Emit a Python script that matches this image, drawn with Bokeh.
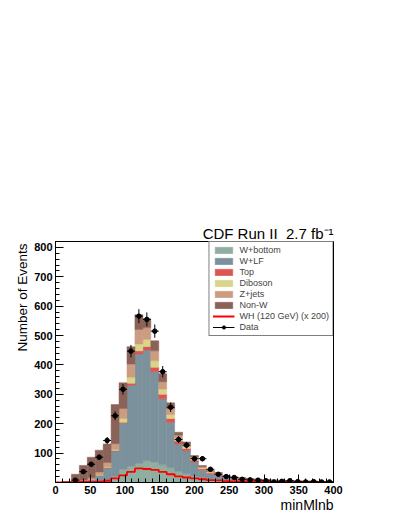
import numpy as np
from bokeh.plotting import figure
from bokeh.models import Range1d, FixedTicker, Legend, LegendItem, Title, ColumnDataSource
from bokeh.embed import file_html
from bokeh.resources import INLINE

# ---- data ----
x_min, x_max, n_bins = 0, 400, 35
data_counts = [0, 0, 8, 37, 62, 86, 143, 227, 317, 447, 566, 555, 515, 377, 256, 146, 127, 81, 81, 45,
               28, 20, 17, 11, 9, 8, 6, 2, 4, 6, 3, 2, 3, 2, 2]
w_bottom = [0, 0, 1, 2, 3, 5, 8, 20, 45, 55, 65, 74, 70, 60, 50, 38, 30, 22, 16, 12,
            9, 7, 6, 5, 4, 3, 3, 2, 2, 2, 1, 1, 1, 1, 1]
w_lf = [0, 1, 1, 3, 8, 20, 42, 87, 157, 275, 372, 377, 307, 225, 155, 93, 78, 48, 26, 17,
        15, 10, 8, 7, 6, 6, 4, 4, 4, 3, 3, 3, 3, 2, 2]
top = [0, 0, 0, 0, 0, 0, 1, 2, 3, 8, 11, 12, 15, 15, 13, 10, 8, 6, 4, 3,
       3, 2, 2, 1, 1, 1, 1, 1, 1, 1, 1, 0, 0, 0, 0]
diboson = [0, 0, 0, 0, 0, 1, 2, 3, 13, 20, 23, 24, 22, 18, 13, 8, 6, 5, 3, 3,
           2, 2, 1, 1, 1, 0, 0, 0, 0, 0, 0, 0, 0, 0, 0]
zjets = [0, 0, 1, 3, 5, 10, 15, 20, 34, 45, 50, 40, 34, 25, 20, 12, 9, 6, 5, 3,
         3, 2, 1, 1, 1, 1, 1, 1, 0, 0, 0, 0, 0, 0, 0]
non_w = [0, 2, 25, 50, 70, 74, 63, 133, 87, 59, 50, 30, 34, 27, 20, 10, 7, 5, 4, 3,
         2, 1, 1, 1, 0, 0, 0, 0, 0, 0, 0, 0, 0, 0, 0]
wh_x200 = [0, 0, 1, 2, 2, 3, 6, 14, 24, 36, 48, 46, 43, 36, 28, 21, 17, 14, 11, 8,
           7, 5, 4, 3, 3, 2, 2, 2, 1, 1, 1, 1, 1, 1, 1]
labels = ["W+bottom", "W+LF", "Top", "Diboson", "Z+jets", "Non-W"]
colors = ["#8fae9f", "#7b919c", "#dd5553", "#d8d589", "#cc9c80", "#8b6257"]
x_ticks = [0, 50, 100, 150, 200, 250, 300, 350, 400]
y_ticks = [100, 200, 300, 400, 500, 600, 700, 800]

edges = np.linspace(x_min, x_max, n_bins + 1)
centers = 0.5 * (edges[:-1] + edges[1:])
bw = edges[1] - edges[0]

FONT = "Liberation Sans"

p = figure(width=391, height=514, output_backend="svg", toolbar_location=None, title=None,
           x_range=Range1d(0, 400), y_range=Range1d(0, 820),
           min_border_left=55, min_border_right=58, min_border_top=241, min_border_bottom=29)
p.xgrid.visible = False
p.ygrid.visible = False
p.background_fill_color = "white"
p.border_fill_color = "white"
p.outline_line_color = "black"
p.outline_line_width = 1

keys = ["wb", "wlf", "top", "dib", "zj", "nonw"]
src = ColumnDataSource(dict(x=centers, wb=w_bottom, wlf=w_lf, top=top, dib=diboson, zj=zjets, nonw=non_w))
rs = p.vbar_stack(keys, x="x", width=bw, source=src, fill_color=colors, line_color=colors, line_width=0.5)

wh_y = list(wh_x200) + [wh_x200[-1]]
r_wh = p.step(list(edges), wh_y, mode="after", line_color="#ff0000", line_width=1.8)

dc = np.array(data_counts, dtype=float)
m = dc > 0
cx = centers[m]
cy = dc[m]
err = np.sqrt(cy)
r_ev = p.segment(x0=cx, y0=cy - err, x1=cx, y1=cy + err, line_color="black", line_width=1)
r_eh = p.segment(x0=cx - bw / 2, y0=cy, x1=cx + bw / 2, y1=cy, line_color="black", line_width=1)
r_pt = p.scatter(cx, cy, size=4.5, fill_color="black", line_color="black")

items = [LegendItem(label=l, renderers=[r]) for l, r in zip(labels, rs)]
items.append(LegendItem(label="WH (120 GeV) (x 200)", renderers=[r_wh]))
items.append(LegendItem(label="Data", renderers=[r_eh, r_pt]))
legend = Legend(items=items, location="top_right", margin=0, padding=3, spacing=1,
                glyph_width=22, glyph_height=8, label_height=10, label_standoff=5,
                label_text_font=FONT, label_text_font_size="9px",
                border_line_color="black", border_line_width=1,
                background_fill_color="white", background_fill_alpha=1.0)
p.add_layout(legend)

for ax in (p.xaxis[0], p.yaxis[0]):
    ax.axis_line_color = "black"
    ax.major_tick_line_color = "black"
    ax.minor_tick_line_color = "black"
    ax.major_tick_out = 0
    ax.minor_tick_out = 0
    ax.major_tick_in = 8
    ax.minor_tick_in = 4
    ax.major_label_text_font = FONT
    ax.major_label_text_font_style = "bold"
    ax.major_label_text_font_size = "11px"
    ax.major_label_text_color = "black"
    ax.major_label_standoff = 3

p.xaxis[0].ticker = FixedTicker(ticks=x_ticks, minor_ticks=list(range(0, 401, 10)))
p.yaxis[0].ticker = FixedTicker(ticks=y_ticks, minor_ticks=list(range(0, 821, 20)))

# titles in the side panels
p.add_layout(Title(text="minMlnb", align="right", vertical_align="top", standoff=0, offset=0,
                   text_font=FONT, text_font_size="14px", text_font_style="normal",
                   text_color="black"), "below")
p.add_layout(Title(text="Number of Events", align="right", vertical_align="bottom", standoff=4, offset=2,
                   text_font=FONT, text_font_size="13.5px", text_font_style="normal",
                   text_color="black"), "left")
p.add_layout(Title(text="CDF Run II\u00a0\u00a02.7 fb\u207b\u00b9", align="right", vertical_align="bottom",
                   standoff=0, offset=0, text_font=FONT, text_font_size="15px",
                   text_font_style="normal", text_color="black"), "above")

open("out.html", "w").write(file_html(p, INLINE))
